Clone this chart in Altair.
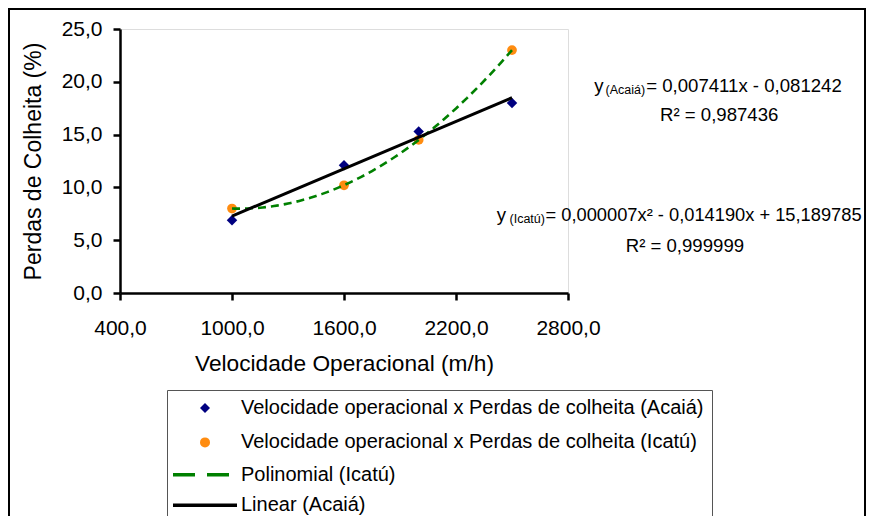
import json
import altair as alt
import pandas as pd

FONT = "Liberation Sans"
NAVY = "#000080"
ORANGE = "#FF8C10"
GREEN = "#008000"
BLACK = "#000000"

# ---- data ----
velocidade = [1000, 1600, 2000, 2500]
perdas_acaia = [6.9, 12.1, 15.3, 18.0]
perdas_icatu = [8.0, 10.2, 14.5, 23.0]

series_names = [
    "Velocidade operacional x Perdas de colheita (Acaiá)",
    "Velocidade operacional x Perdas de colheita (Icatú)",
    "Polinomial (Icatú)",
    "Linear (Acaiá)",
]
series_colors = [NAVY, ORANGE, GREEN, BLACK]

x_ticks = [400, 1000, 1600, 2200, 2800]
y_ticks = [0, 5, 10, 15, 20, 25]

# equation annotations (text, size)
ann_texts = [
    "y", "(Acaiá)", "= 0,007411x - 0,081242", "R² = 0,987436",
    "y", "(Icatú)", "= 0,000007x² - 0,014190x + 15,189785", "R² = 0,999999",
]
ann_sizes = [18.6, 12.5, 18.6, 18.6, 18.6, 12.5, 18.3, 18.6]
# annotation anchor positions, pixels relative to the plot area
ann_x = [474.3, 485.5, 526.2, 540.0, 376.7, 389.5, 425.5, 505.7]
ann_y = [62.7, 64.5, 62.7, 92.0, 191.7, 193.5, 191.7, 222.5]

# ---- tables ----
df = pd.DataFrame({
    "vel": velocidade * 2,
    "perda": perdas_acaia + perdas_icatu,
    "serie": [series_names[0]] * len(velocidade) + [series_names[1]] * len(velocidade),
})

idx = "indexof(" + json.dumps(series_names, ensure_ascii=False) + ", datum.value)"
legend = alt.Legend(
    title=None,
    orient="none",
    legendX=47,
    legendY=361,
    direction="vertical",
    labelFont=FONT,
    labelFontSize=20,
    labelColor="black",
    labelLimit=800,
    symbolSize=100,
    symbolStrokeWidth=3.5,
    symbolOffset=20,
    labelOffset=26,
    rowPadding=10.4,
    padding=8,
    strokeColor="#555555",
    fillColor="white",
    symbolOpacity=1,
    symbolType=alt.ExprRef(
        expr=f"{idx} == 0 ? 'diamond' : {idx} == 1 ? 'circle' : 'M-6.4,0H6.4'"),
    symbolStrokeColor=alt.ExprRef(
        expr=f"{idx} == 2 ? '{GREEN}' : {idx} == 3 ? '{BLACK}' : 'transparent'"),
    symbolDash=alt.ExprRef(expr=f"{idx} == 2 ? [22, 12] : [1, 0]"),
)

color = alt.Color(
    "serie:N",
    scale=alt.Scale(domain=series_names, range=series_colors),
    legend=legend,
)

label_expr = "replace(format(datum.value, '.1f'), '.', ',')"
axis_style = dict(
    grid=False,
    domainColor="black", domainWidth=2.5,
    tickColor="black", tickWidth=2.5, tickSize=7,
    labelFont=FONT, labelFontSize=21, labelColor="black", labelFlush=False,
    titleFont=FONT, titleFontWeight="normal", titleColor="black",
    labelExpr=label_expr,
)

x_enc = alt.X(
    "vel:Q",
    scale=alt.Scale(domain=[400, 2800], nice=False, zero=False),
    axis=alt.Axis(values=x_ticks, title="Velocidade Operacional (m/h)",
                  labelPadding=17, titlePadding=14, titleFontSize=22.7, **axis_style),
)
y_enc = alt.Y(
    "perda:Q",
    scale=alt.Scale(domain=[0, 25], nice=False),
    axis=alt.Axis(values=y_ticks, title="Perdas de Colheita (%)",
                  labelPadding=11, titlePadding=16, titleFontSize=23, **axis_style),
)

base = alt.Chart(df)

pts_acaia = base.transform_filter(
    alt.datum.serie == series_names[0]
).mark_point(shape="diamond", filled=True, size=110, opacity=1).encode(
    x=x_enc, y=y_enc, color=color
)
pts_icatu = base.transform_filter(
    alt.datum.serie == series_names[1]
).mark_point(shape="circle", filled=True, size=95, opacity=1).encode(
    x=x_enc, y=y_enc, color=color
)

poly = base.transform_filter(
    alt.datum.serie == series_names[1]
).transform_regression(
    "vel", "perda", method="poly", order=2, extent=[1000, 2500]
).mark_line(color=GREEN, strokeWidth=2.6, strokeDash=[8, 5]).encode(
    x="vel:Q", y="perda:Q"
)

linear = base.transform_filter(
    alt.datum.serie == series_names[0]
).transform_regression(
    "vel", "perda", method="linear", extent=[1000, 2500]
).mark_line(color=BLACK, strokeWidth=3).encode(
    x="vel:Q", y="perda:Q"
)

one_row = alt.Data(values=[{"k": 0}])
frame = alt.Chart(one_row).mark_rect(
    filled=False, stroke="black", strokeWidth=2
).encode(
    x=alt.value(-111), x2=alt.value(745), y=alt.value(-20), y2=alt.value(600)
)

texts = []
for t, s, px, py in zip(ann_texts, ann_sizes, ann_x, ann_y):
    texts.append(
        alt.Chart(one_row).mark_text(
            align="left", baseline="alphabetic", font=FONT, fontSize=s, color="black"
        ).encode(x=alt.value(px), y=alt.value(py), text=alt.value(t))
    )

chart = alt.layer(
    frame, pts_icatu, pts_acaia, poly, linear, *texts
).properties(
    width=448,
    height=264,
    autosize=alt.AutoSizeParams(type="none"),
    padding={"left": 112, "top": 21, "right": 298, "bottom": 223},
).configure_view(
    stroke=None
).configure(
    font=FONT, background="white"
)

chart.save("out.html", embed_options={"renderer": "svg", "actions": False})
